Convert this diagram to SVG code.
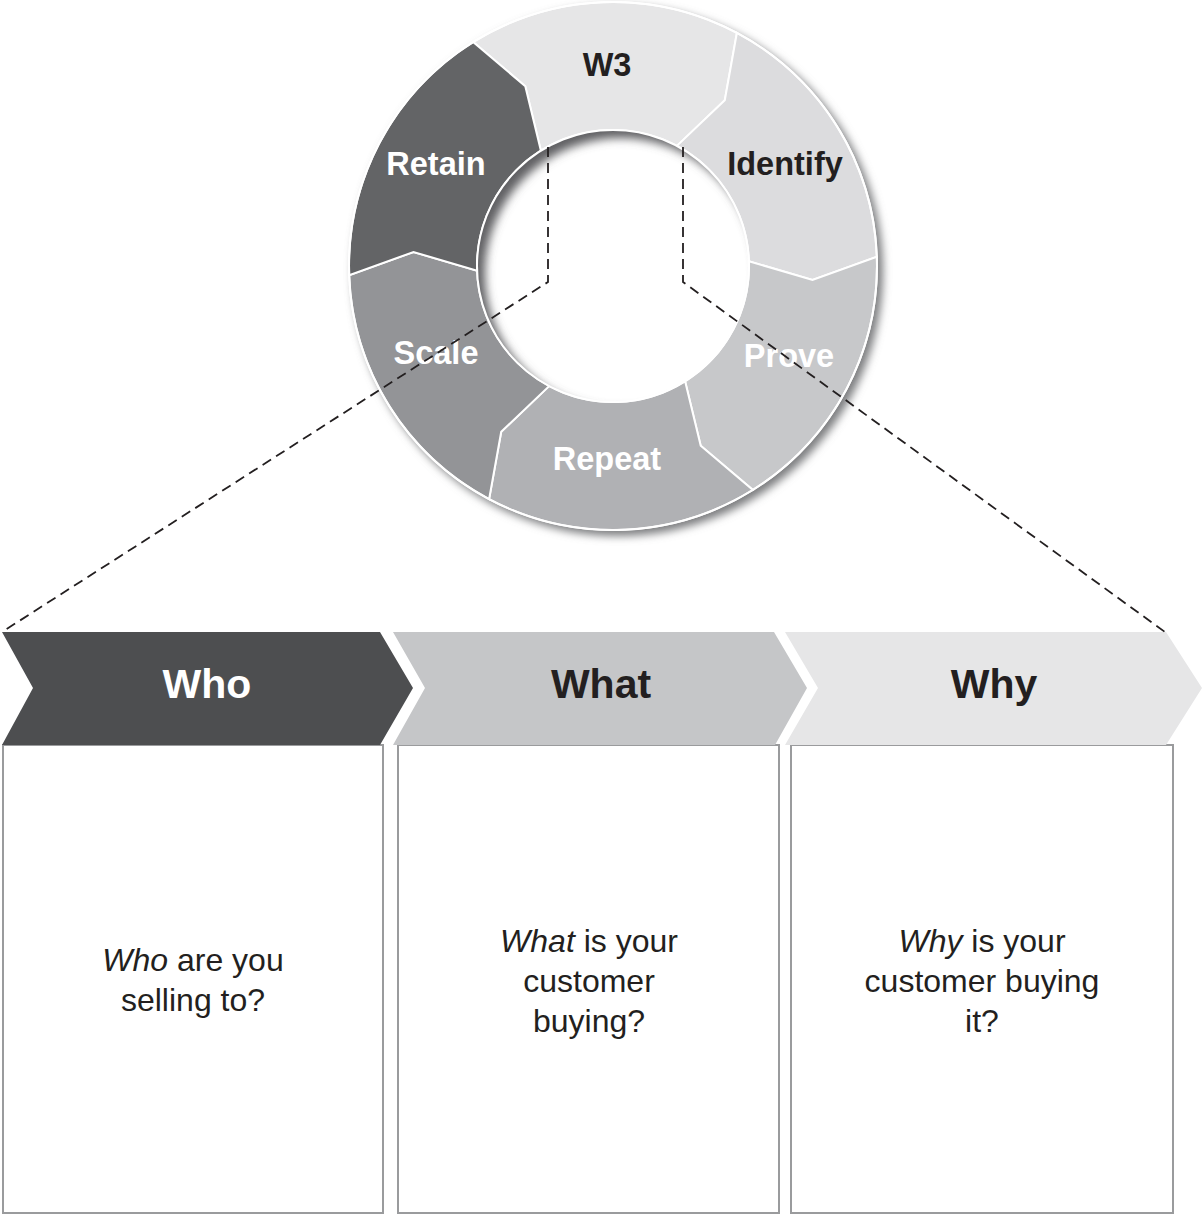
<svg xmlns="http://www.w3.org/2000/svg" width="1203" height="1214" viewBox="0 0 1203 1214">
<style>
.seg{stroke:#ffffff;stroke-width:2;stroke-linejoin:miter}
.rl{font-family:"Liberation Sans",Arial,sans-serif;font-weight:bold;font-size:32.5px;text-anchor:middle}
.cl{font-family:"Liberation Sans",Arial,sans-serif;font-weight:bold;font-size:41px;text-anchor:middle}
.bt{font-family:"Liberation Sans",Arial,sans-serif;font-size:32px;text-anchor:middle;fill:#231f20}
.box{fill:#ffffff;stroke:#9a9b9d;stroke-width:2}
.dash{fill:none;stroke:#231f20;stroke-width:1.8;stroke-dasharray:10 6}
</style>
<defs>
<filter id="blurO" x="-20%" y="-20%" width="140%" height="140%"><feGaussianBlur stdDeviation="4"/></filter>
<filter id="blurI" x="-20%" y="-20%" width="140%" height="140%"><feGaussianBlur stdDeviation="5"/></filter>
<clipPath id="hole"><circle cx="613" cy="266" r="136"/></clipPath>
</defs>
<rect width="1203" height="1214" fill="#ffffff"/>
<g id="ring">
<circle cx="618" cy="271" r="265" fill="#7d7e80" filter="url(#blurO)"/>
<g id="seg-w3">
<path class="seg" fill="#e6e6e7" d="M473.1,42.1 A264,264 0 0 1 736.9,32.9 L724.8,100.2 L676.9,145.9 A136,136 0 0 0 540.9,150.7 L525.3,86.2 Z"/>
<text class="rl" x="607" y="76" fill="#231f20">W3</text>
</g>
<g id="seg-identify">
<path class="seg" fill="#dcdcde" d="M736.9,32.9 A264,264 0 0 1 876.8,256.8 L812.5,280 L748.9,261.3 A136,136 0 0 0 676.9,145.9 L724.8,100.2 Z"/>
<text class="rl" x="785" y="175" fill="#231f20">Identify</text>
</g>
<g id="seg-prove">
<path class="seg" fill="#c7c8ca" d="M876.8,256.8 A264,264 0 0 1 752.9,489.9 L700.7,445.8 L685.1,381.3 A136,136 0 0 0 748.9,261.3 L812.5,280 Z"/>
<text class="rl" x="789" y="367" fill="#ffffff">Prove</text>
</g>
<g id="seg-repeat">
<path class="seg" fill="#b0b1b4" d="M752.9,489.9 A264,264 0 0 1 489.1,499.1 L501.2,431.8 L549.1,386.1 A136,136 0 0 0 685.1,381.3 L700.7,445.8 Z"/>
<text class="rl" x="607" y="470" fill="#ffffff">Repeat</text>
</g>
<g id="seg-scale">
<path class="seg" fill="#939497" d="M489.1,499.1 A264,264 0 0 1 349.2,275.2 L413.5,252 L477.1,270.7 A136,136 0 0 0 549.1,386.1 L501.2,431.8 Z"/>
<text class="rl" x="436" y="364" fill="#ffffff">Scale</text>
</g>
<g id="seg-retain">
<path class="seg" fill="#636466" d="M349.2,275.2 A264,264 0 0 1 473.1,42.1 L525.3,86.2 L540.9,150.7 A136,136 0 0 0 477.1,270.7 L413.5,252 Z"/>
<text class="rl" x="436" y="175" fill="#ffffff">Retain</text>
</g>
<g clip-path="url(#hole)">
<circle cx="613" cy="266" r="136" fill="#ffffff"/>
<circle cx="621" cy="274" r="148" fill="none" stroke="#606163" stroke-width="24" filter="url(#blurI)"/>
</g>
<circle cx="613" cy="266" r="136" fill="none" stroke="#ffffff" stroke-width="2"/>
<circle cx="613" cy="266" r="264" fill="none" stroke="#ffffff" stroke-width="2"/>
</g>
<g id="node-who">
<rect class="box" x="3" y="745" width="380" height="468"/>
<path fill="#4d4e50" d="M2,632 L380,632 L413,688 L380,745 L2,745 L33,688 Z"/>
<text class="cl" x="207" y="698" fill="#ffffff">Who</text>
<text class="bt" x="193" y="971"><tspan font-style="italic">Who</tspan> are you</text>
<text class="bt" x="193" y="1011">selling to?</text>
</g>
<g id="node-what">
<rect class="box" x="398" y="745" width="381" height="468"/>
<path fill="#c5c6c8" d="M393,632 L774,632 L807,688 L775,745 L393,745 L425,688 Z"/>
<text class="cl" x="601" y="698" fill="#231f20">What</text>
<text class="bt" x="589" y="952"><tspan font-style="italic">What</tspan> is your</text>
<text class="bt" x="589" y="992">customer</text>
<text class="bt" x="589" y="1032">buying?</text>
</g>
<g id="node-why">
<rect class="box" x="791" y="745" width="382" height="468"/>
<path fill="#e6e6e7" d="M785,632 L1166,632 L1202,688 L1166,745 L785,745 L818,688 Z"/>
<text class="cl" x="994" y="698" fill="#231f20">Why</text>
<text class="bt" x="982" y="952"><tspan font-style="italic">Why</tspan> is your</text>
<text class="bt" x="982" y="992">customer buying</text>
<text class="bt" x="982" y="1032">it?</text>
</g>
<g id="connectors">
<path class="dash" d="M548,147 L548,282 L2,632"/>
<path class="dash" d="M683,147 L683,282 L1165,632"/>
</g>
</svg>
